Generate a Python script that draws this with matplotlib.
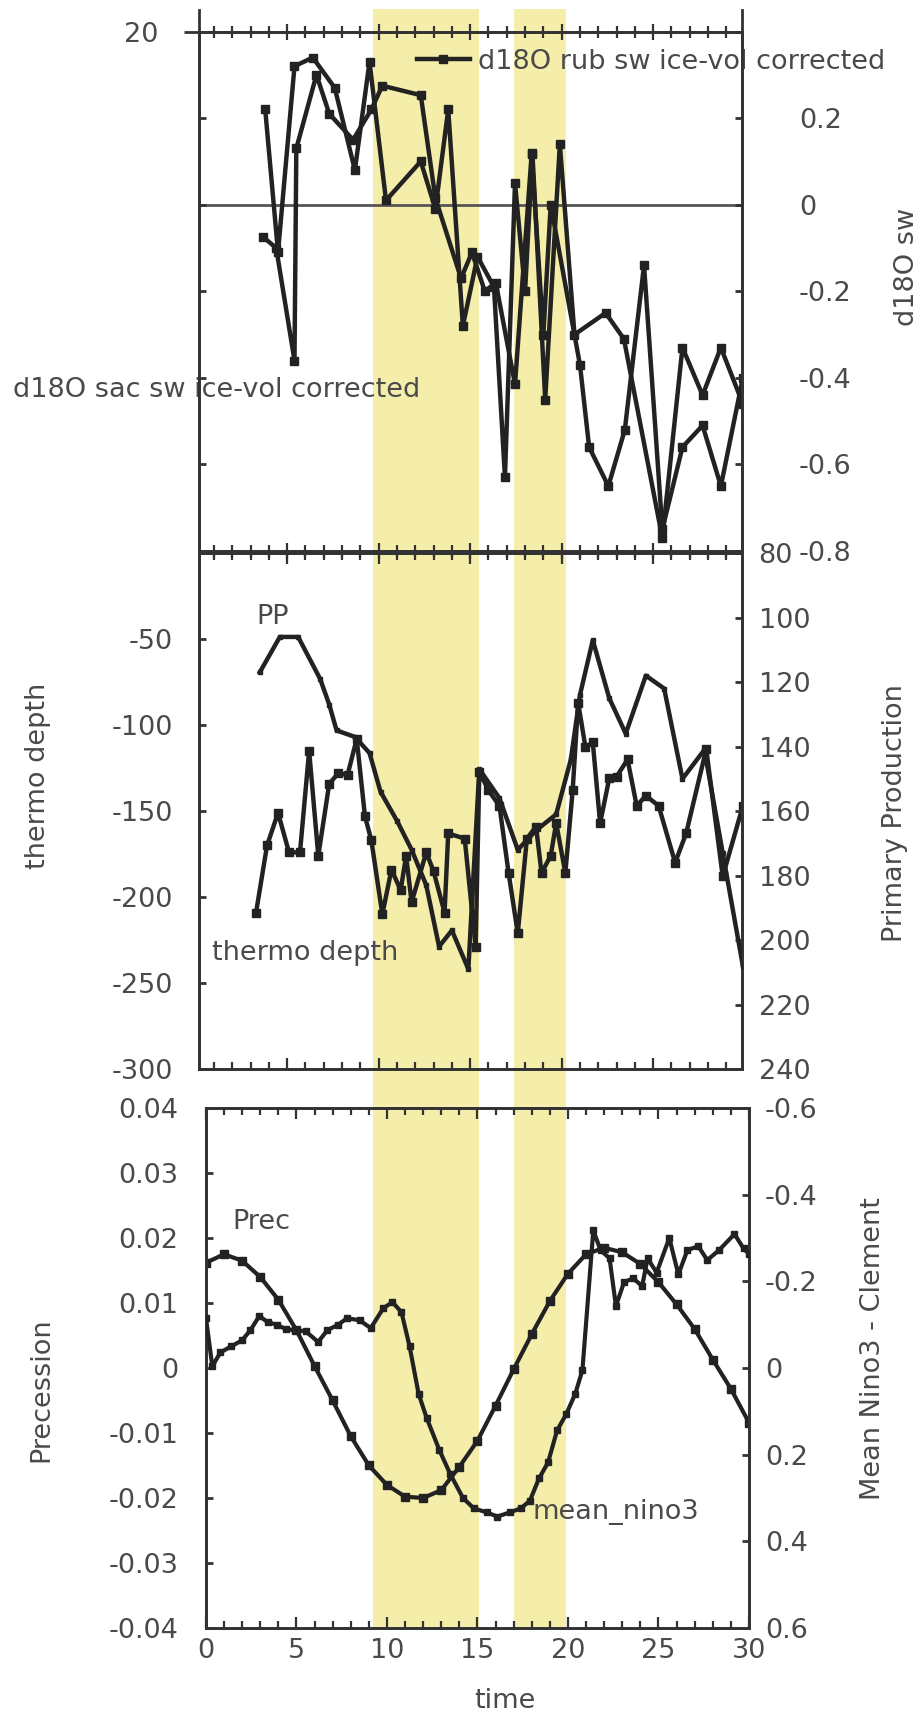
"""Three stacked proxy panels (d18O sw, thermocline/PP, precession/Nino3) with shaded intervals."""
import matplotlib

matplotlib.use("Agg")
import matplotlib.pyplot as plt  # noqa: E402
import matplotlib.lines as mlines  # noqa: E402
from matplotlib.patches import Rectangle  # noqa: E402
from matplotlib.ticker import MultipleLocator  # noqa: E402
from matplotlib.transforms import blended_transform_factory  # noqa: E402

plt.rcParams["font.family"] = ["DejaVu Sans"]
plt.rcParams["axes.unicode_minus"] = False

# ---------- data ----------
# panel 1: ice-volume corrected d18O of seawater
rub_t = [3.8, 4.5, 5.4, 6.4, 7.6, 8.7, 9.5, 10.4, 12.3, 13.1, 13.8, 14.6, 15.4, 16.3, 16.9,
         17.45, 18.0, 18.4, 19.1, 19.9, 20.7, 22.4, 23.4, 25.5, 26.6, 27.7, 28.7, 29.9]
rub_v = [0.22, -0.11, 0.32, 0.34, 0.27, 0.08, 0.33, 0.01, 0.10, -0.01, 0.22, -0.28, -0.12, -0.19, -0.63,
         0.05, -0.20, 0.12, -0.45, 0.14, -0.30, -0.25, -0.31, -0.77, -0.33, -0.44, -0.33, -0.46]
sac_t = [3.7, 4.4, 5.4, 5.5, 6.6, 7.3, 8.6, 9.6, 10.2, 12.3, 13.1, 14.5, 15.1, 15.8, 16.4, 17.45,
         18.36, 19.0, 19.4, 21.0, 21.5, 22.55, 23.45, 24.5, 25.5, 26.6, 27.7, 28.7, 29.9]
sac_v = [-0.075, -0.10, -0.36, 0.13, 0.30, 0.21, 0.15, 0.22, 0.275, 0.253, 0.015, -0.17, -0.11, -0.20, -0.18,
         -0.415, 0.118, -0.30, 0.00, -0.37, -0.56, -0.65, -0.52, -0.14, -0.75, -0.56, -0.51, -0.65, -0.40]

# panel 2: primary production (right axis) and thermocline depth (left axis)
pp_t = [3.5, 4.6, 5.6, 6.8, 7.3, 7.7, 8.7, 9.5, 10.1, 11.0, 11.8, 12.6, 13.3, 14.0, 14.9, 15.5,
        16.6, 17.6, 18.6, 19.7, 20.5, 21.0, 21.7, 22.6, 23.5, 24.6, 25.6, 26.6, 27.8, 28.8, 29.9]
pp_v = [117, 106, 106, 119, 127, 135, 137, 142, 154, 163, 172, 183, 202, 197, 209, 147,
        156, 172, 166, 161, 144, 124, 107, 125, 136, 118, 122, 150, 141, 173, 208]
th_t = [3.3, 3.9, 4.5, 5.1, 5.7, 6.2, 6.7, 7.3, 7.8, 8.3, 8.8, 9.25, 9.6, 10.2, 10.7, 11.2, 11.5,
        11.8, 12.6, 13.0, 13.6, 13.8, 14.7, 15.3, 15.5, 16.0, 16.6, 17.1, 17.6, 18.1, 18.6, 18.9,
        19.4, 19.7, 20.2, 20.6, 20.9, 21.3, 21.7, 22.1, 22.6, 23.0, 23.6, 24.1, 24.6, 25.3, 26.2,
        26.8, 27.9, 28.8, 29.9]
th_v = [-209, -170, -151, -174, -174, -115, -176, -134, -128, -129, -108, -153, -167, -210, -184, -196, -176,
        -203, -174, -185, -209, -163, -166, -229, -127, -138, -147, -186, -221, -166, -159, -186,
        -176, -157, -186, -138, -87, -113, -110, -157, -131, -130, -120, -147, -141, -147, -180,
        -163, -114, -188, -147]

# panel 3: precession (left axis) and mean Nino3 (right axis, inverted)
prec_t = list(range(31))
prec_v = [0.0162, 0.0175, 0.0165, 0.0140, 0.0105, 0.0058, 0.0003, -0.0050, -0.0105, -0.0150, -0.0180,
          -0.0198, -0.0200, -0.0188, -0.0152, -0.0112, -0.0058, -0.0002, 0.0052, 0.0103, 0.0145,
          0.0175, 0.0185, 0.0178, 0.0160, 0.0132, 0.0098, 0.0060, 0.0013, -0.0032, -0.0084]
nino_t = [0.0, 0.35, 0.8, 1.4, 2.0, 2.45, 2.95, 3.4, 3.9, 4.4, 4.9, 5.5, 6.2, 6.7, 7.3, 7.8, 8.5, 9.1,
          9.8, 10.3, 10.8, 11.25, 11.75, 12.2, 12.9, 13.5, 14.2, 14.8, 15.5, 16.1, 16.8, 17.4, 17.9,
          18.4, 18.9, 19.4, 19.9, 20.4, 20.8, 21.4, 21.8, 22.3, 22.65, 23.1, 23.6, 24.1, 24.4, 24.9,
          25.6, 26.1, 26.6, 27.2, 27.7, 28.35, 29.2, 29.7, 30.0]
nino_v = [-0.115, -0.004, -0.036, -0.05, -0.064, -0.087, -0.12, -0.106, -0.10, -0.09, -0.087, -0.085,
          -0.06, -0.087, -0.10, -0.115, -0.11, -0.092, -0.138, -0.152, -0.129, -0.05, 0.06, 0.116,
          0.19, 0.245, 0.30, 0.324, 0.333, 0.343, 0.333, 0.324, 0.306, 0.255, 0.218, 0.144, 0.107,
          0.06, 0.005, -0.318, -0.272, -0.253, -0.143, -0.198, -0.207, -0.189, -0.253, -0.22,
          -0.30, -0.216, -0.272, -0.281, -0.249, -0.272, -0.309, -0.276, -0.263]

# shaded intervals (time units)
band_start = [9.25, 17.0]
band_end = [15.1, 19.9]

INK = "#222222"
SPINE = "#333333"
TXT = "#4a4a4a"
BAND = "#f4eeaa"
FS = 19.5


def style(ax, lw=2.0):
    for s in ax.spines.values():
        s.set_linewidth(lw)
        s.set_color(SPINE)


fig = plt.figure(figsize=(9.22, 17.16), dpi=100)
ax1 = fig.add_axes([0.2158, 0.6789, 0.5889, 0.3027], facecolor="none")
ax2 = fig.add_axes([0.2158, 0.3770, 0.5889, 0.3007], facecolor="none")
ax3 = fig.add_axes([0.2234, 0.0513, 0.5889, 0.3030], facecolor="none")

# shaded bands run through all three panels
trans = blended_transform_factory(ax3.transData, fig.transFigure)
for x0, x1 in zip(band_start, band_end):
    fig.add_artist(Rectangle((x0, 0.0513), x1 - x0, 0.9948 - 0.0513, transform=trans,
                             facecolor=BAND, edgecolor="none", zorder=-1))

# ---------- panel 1 ----------
ax1.axhline(0, color="#555555", lw=2.0, zorder=1)
rub_line, = ax1.plot(rub_t, rub_v, color=INK, lw=3.2, marker="s", ms=6, zorder=3)
ax1.plot(sac_t, sac_v, color=INK, lw=3.2, marker="s", ms=6, zorder=3)
ax1.set_xlim(0.18, 29.85)
ax1.set_ylim(-0.8, 0.4)
ax1.xaxis.set_major_locator(MultipleLocator(5))
ax1.xaxis.set_minor_locator(MultipleLocator(1))
ax1.tick_params(axis="x", which="both", direction="inout", top=True, bottom=True,
                labelbottom=False, width=1.6, color=SPINE)
ax1.tick_params(axis="x", which="major", length=12)
ax1.tick_params(axis="x", which="minor", length=8)
ax1.set_yticks([0.4, 0.2, 0, -0.2, -0.4, -0.6])
ax1.set_yticklabels(["20", "", "", "", "", ""])
ax1.tick_params(axis="y", direction="in", length=5, width=2, pad=29, labelsize=FS,
                labelcolor=TXT, color=SPINE)
ax1.yaxis.get_major_ticks()[0].tick1line.set_marker(mlines.TICKLEFT)
ax1.yaxis.get_major_ticks()[0].tick1line.set_markersize(11)
style(ax1)
for xa in (0, 1):
    ax1.plot([xa, xa], [1, 1.042], transform=ax1.transAxes, color=SPINE, lw=2.0, clip_on=False)

ax1r = ax1.twinx()
ax1r.set_ylim(-0.8, 0.4)
ax1r.set_yticks([0.2, 0, -0.2, -0.4, -0.6, -0.8])
ax1r.set_yticklabels(["0.2", "0", "-0.2", "-0.4", "-0.6", "-0.8"])
ax1r.tick_params(axis="y", direction="in", length=5, width=2, pad=41, labelsize=FS,
                 labelcolor=TXT, color=SPINE)
style(ax1r)
ax1r.set_ylabel("d18O sw", fontsize=FS, color=TXT)
ax1r.yaxis.label.set_va("center")
ax1r.yaxis.set_label_coords(1.304, 0.546)

ax1.legend([rub_line], ["d18O rub sw ice-vol corrected"], loc="center left",
           bbox_to_anchor=(0.401, 0.942), frameon=False, fontsize=FS, labelcolor=TXT,
           handlelength=1.95, handletextpad=0.33, borderpad=0, borderaxespad=0, numpoints=1)
ax1.text(-0.3425, 0.31, "d18O sac sw ice-vol corrected", transform=ax1.transAxes,
         fontsize=FS, color=TXT, va="center", ha="left", clip_on=False)

# ---------- panel 2 ----------
ax2.plot(th_t, th_v, color=INK, lw=3.2, marker="s", ms=6, zorder=3)
ax2.set_xlim(0.18, 29.85)
ax2.set_ylim(-300, 0)
ax2.set_yticks([-50, -100, -150, -200, -250, -300])
ax2.set_yticklabels(["-50", "-100", "-150", "-200", "-250", "-300"])
ax2.xaxis.set_major_locator(MultipleLocator(5))
ax2.xaxis.set_minor_locator(MultipleLocator(1))
ax2.tick_params(axis="x", which="both", direction="in", top=True, bottom=True,
                labelbottom=False, width=1.6, color=SPINE)
ax2.tick_params(axis="x", which="major", length=8)
ax2.tick_params(axis="x", which="minor", length=5)
ax2.tick_params(axis="y", direction="in", length=5, width=2, pad=19, labelsize=FS,
                labelcolor=TXT, color=SPINE)
style(ax2)
ax2.set_ylabel("thermo depth", fontsize=FS, color=TXT)
ax2.yaxis.label.set_va("center")
ax2.yaxis.set_label_coords(-0.2965, 0.5676)

ax2r = ax2.twinx()
ax2r.plot(pp_t, pp_v, color=INK, lw=3.2, marker="s", ms=3.5, zorder=3)
ax2r.set_ylim(240, 80)
ax2r.set_yticks(range(80, 241, 20))
ax2r.tick_params(axis="y", direction="in", length=5, width=2, pad=12, labelsize=FS,
                 labelcolor=TXT, color=SPINE)
style(ax2r)
ax2r.set_ylabel("Primary Production", fontsize=FS, color=TXT)
ax2r.yaxis.label.set_va("center")
ax2r.yaxis.set_label_coords(1.2818, 0.496)

ax2.text(0.105, 0.876, "PP", transform=ax2.transAxes, fontsize=FS, color=TXT,
         va="center", ha="left")
ax2.text(0.024, 0.224, "thermo depth", transform=ax2.transAxes, fontsize=FS, color=TXT,
         va="center", ha="left")

# ---------- panel 3 ----------
ax3.plot(prec_t, prec_v, color=INK, lw=3.0, marker="s", ms=5.5, zorder=3)
ax3.set_xlim(0, 30)
ax3.set_ylim(-0.04, 0.04)
ax3.set_yticks([0.04, 0.03, 0.02, 0.01, 0, -0.01, -0.02, -0.03, -0.04])
ax3.set_yticklabels(["0.04", "0.03", "0.02", "0.01", "0", "-0.01", "-0.02", "-0.03", "-0.04"])
ax3.xaxis.set_major_locator(MultipleLocator(5))
ax3.xaxis.set_minor_locator(MultipleLocator(1))
ax3.tick_params(axis="x", which="both", direction="in", top=True, bottom=True,
                width=1.6, color=SPINE, labelsize=FS, labelcolor=TXT, pad=7)
ax3.tick_params(axis="x", which="major", length=8)
ax3.tick_params(axis="x", which="minor", length=5)
ax3.tick_params(axis="y", direction="in", length=5, width=2, pad=20, labelsize=FS,
                labelcolor=TXT, color=SPINE)
style(ax3)
ax3.set_ylabel("Precession", fontsize=FS, color=TXT)
ax3.yaxis.label.set_va("center")
ax3.yaxis.set_label_coords(-0.304, 0.4577)
ax3.set_xlabel("time", fontsize=FS, color=TXT)
ax3.xaxis.label.set_va("center")
ax3.xaxis.set_label_coords(0.55, -0.140)

ax3r = ax3.twinx()
ax3r.plot(nino_t, nino_v, color=INK, lw=3.0, marker="s", ms=4, zorder=3)
ax3r.set_ylim(0.6, -0.6)
ax3r.set_yticks([-0.6, -0.4, -0.2, 0, 0.2, 0.4, 0.6])
ax3r.set_yticklabels(["-0.6", "-0.4", "-0.2", "0", "0.2", "0.4", "0.6"])
ax3r.tick_params(axis="y", direction="in", length=5, width=2, pad=11.5, labelsize=FS,
                 labelcolor=TXT, color=SPINE)
style(ax3r)
ax3r.set_ylabel("Mean Nino3 - Clement", fontsize=FS, color=TXT)
ax3r.yaxis.label.set_va("center")
ax3r.yaxis.set_label_coords(1.228, 0.5365)

ax3.text(0.049, 0.781, "Prec", transform=ax3.transAxes, fontsize=FS, color=TXT,
         va="center", ha="left")
ax3.text(0.602, 0.224, "mean_nino3", transform=ax3.transAxes, fontsize=FS, color=TXT,
         va="center", ha="left")

fig.savefig("out.png", dpi=100)
